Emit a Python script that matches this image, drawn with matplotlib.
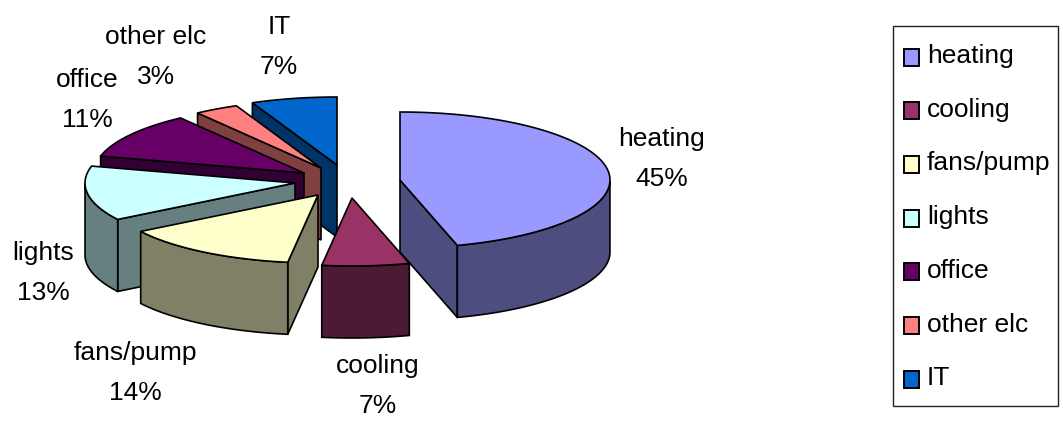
import numpy as np
import matplotlib
matplotlib.use("Agg")
import matplotlib.pyplot as plt
from matplotlib.patches import Polygon, Rectangle

labels = ["heating", "cooling", "fans/pump", "lights", "office", "other elc", "IT"]
percents = [45, 7, 14, 13, 11, 3, 7]
# slice sizes as measured on the picture, the labels are rounded
shares = [45.6, 6.7, 13.7, 13.0, 11.0, 3.4, 6.6]

top_colors = ["#9999FF", "#993366", "#FFFFCC", "#CCFFFF", "#660066", "#FF8080", "#0066CC"]
side_colors = ["#4D4D80", "#4D1A33", "#808066", "#668080", "#330033", "#804040", "#003366"]

# apex of each exploded slice, in pixels
apex_x = [400, 352, 318, 295, 304, 321, 337]
apex_y = [180, 198, 195, 183, 173, 168, 165]

label_x = [662, 378, 135, 43, 87, 156, 279]
label_y = [159, 386, 373, 273, 100, 57, 47]

rx = 210
ry = 68
depth = 72

plt.rcParams["font.family"] = ["Liberation Sans", "DejaVu Sans"]

fig = plt.figure(figsize=(10.63, 4.21), dpi=100)
ax = fig.add_axes([0, 0, 1, 1])
ax.set_xlim(0, 1063)
ax.set_ylim(421, 0)
ax.axis("off")


def face(pts, color, z):
    ax.add_patch(Polygon(pts, closed=True, facecolor=color, edgecolor="black", linewidth=1.2, zorder=z))


# angles clockwise from 12 o'clock
edges = np.cumsum([0] + shares) / sum(shares) * 2 * np.pi

# heating first, then round the back to the front
order = [0, 6, 5, 4, 3, 2, 1]
for n, i in enumerate(order):
    a0, a1 = edges[i], edges[i + 1]
    cx, cy = apex_x[i], apex_y[i]
    t = np.linspace(a0, a1, 80)
    arc = np.column_stack([cx + rx * np.sin(t), cy - ry * np.cos(t)])
    z = 10 + n * 5
    # cut faces, only the ones turned to the viewer
    for a, seen in ((a0, np.sin(a0) < 0), (a1, np.sin(a1) > 0)):
        if seen:
            p = (cx + rx * np.sin(a), cy - ry * np.cos(a))
            face([(cx, cy), p, (p[0], p[1] + depth), (cx, cy + depth)], side_colors[i], z)
    # outer wall, only the front half can be seen
    tf = t[(t > np.pi / 2) & (t < 3 * np.pi / 2)]
    if len(tf) > 1:
        fx = cx + rx * np.sin(tf)
        fy = cy - ry * np.cos(tf)
        wall = np.vstack([np.column_stack([fx, fy]), np.column_stack([fx[::-1], fy[::-1] + depth])])
        face(wall, side_colors[i], z + 1)
    face(np.vstack([[(cx, cy)], arc]), top_colors[i], z + 2)

for i in range(len(labels)):
    ax.text(label_x[i], label_y[i], f"{labels[i]}\n{percents[i]}%", ha="center", va="center",
            fontsize=19, linespacing=1.85, color="black", zorder=100)

# legend
ax.add_patch(Rectangle((893, 26), 165, 380, facecolor="white", edgecolor="#222222", linewidth=1.0))
for i in range(len(labels)):
    y = 57 + i * 53.7
    ax.add_patch(Rectangle((904, y - 8.5), 14.5, 17, facecolor=top_colors[i], edgecolor="black", linewidth=1.4))
    ax.text(927, y - 1, labels[i], ha="left", va="center", fontsize=19)

fig.savefig("out.png", dpi=100)
